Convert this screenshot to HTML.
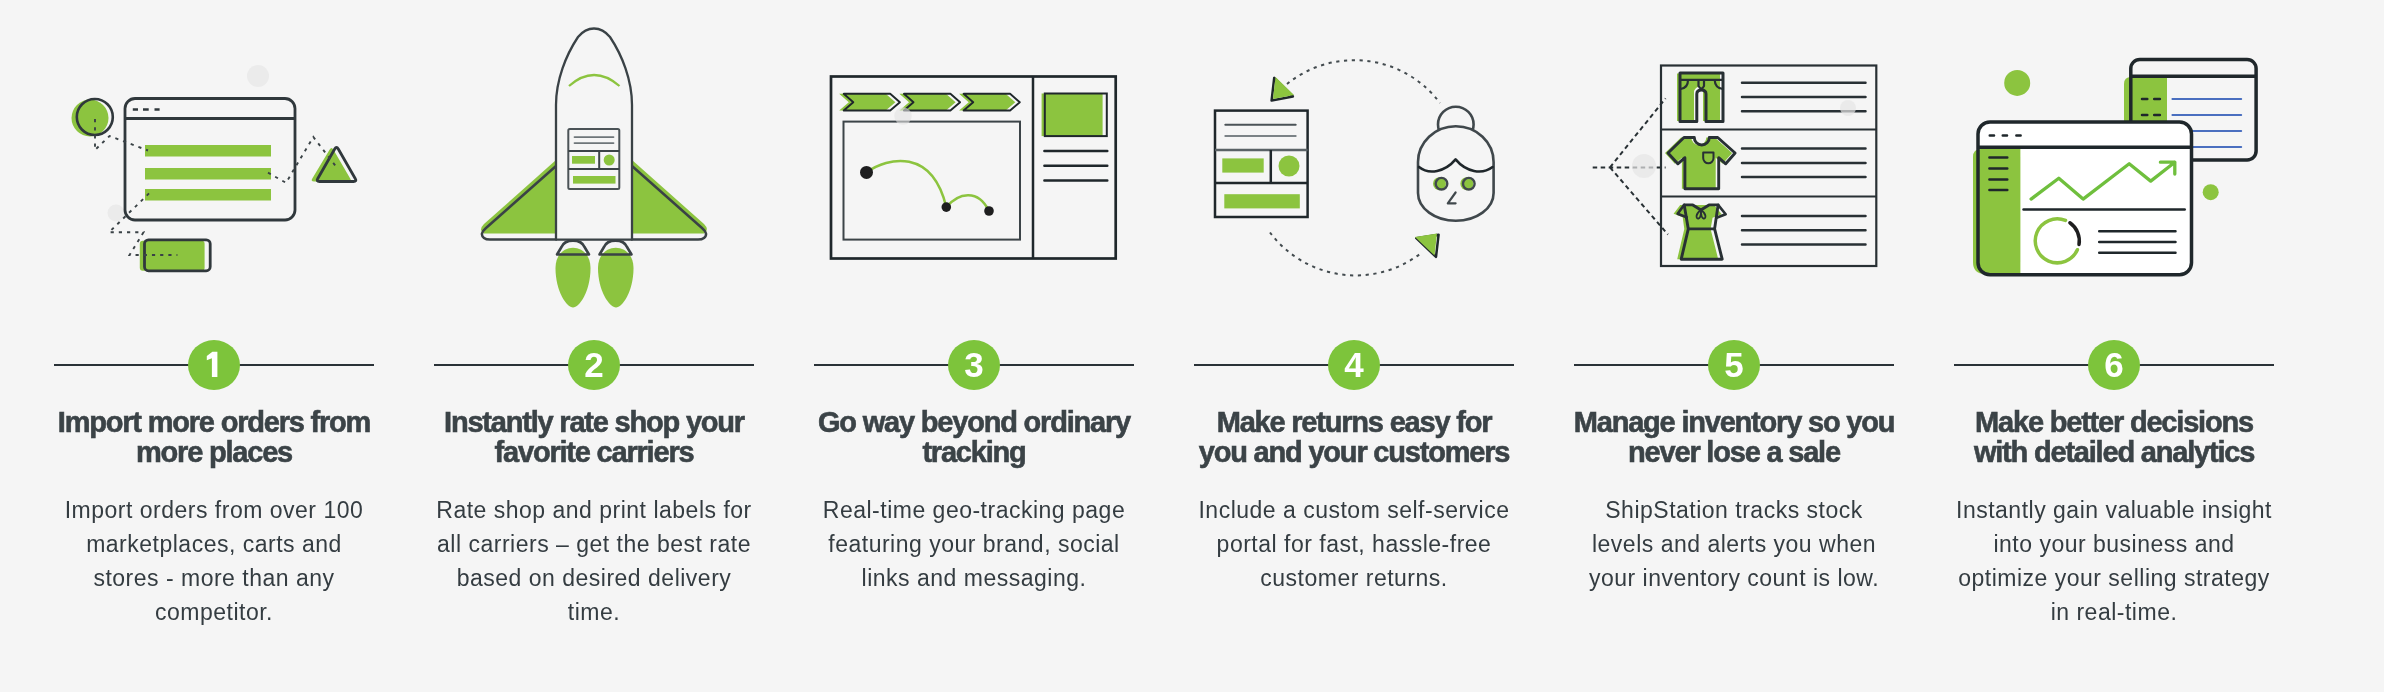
<!DOCTYPE html>
<html><head><meta charset="utf-8">
<style>
html,body{margin:0;padding:0;}
body{width:2384px;height:692px;background:#f5f5f5;position:relative;overflow:hidden;font-family:"Liberation Sans",sans-serif;}
.col{position:absolute;top:0;width:380px;height:692px;}
.line{position:absolute;left:30px;width:320px;top:364px;height:2px;background:#2a3237;}
.num{position:absolute;left:164px;top:340px;width:52px;height:50px;border-radius:50%;background:#7dc43b;color:#fff;font-weight:bold;font-size:35px;line-height:50px;text-align:center;will-change:transform;}
h2{position:absolute;left:0;width:380px;top:407px;margin:0;text-align:center;font-size:29px;line-height:30px;font-weight:bold;color:#3b4347;letter-spacing:-1.2px;-webkit-text-stroke:0.6px #3b4347;will-change:transform;}
p{position:absolute;left:20px;width:340px;top:493px;margin:0;text-align:center;font-size:23px;line-height:34px;letter-spacing:0.5px;color:#343c41;will-change:transform;}
svg.ill{position:absolute;left:0;top:0;}
</style></head><body>
<svg class="ill" width="2384" height="320" viewBox="0 0 2384 320">
<g id="i1">
<circle cx="258" cy="76" r="11" fill="#ebebeb"/>
<circle cx="116" cy="213" r="8.5" fill="#ebebeb"/>
<circle fill="#8cc43f" cx="90" cy="118" r="18.5"/>
<circle fill="none" stroke="#30383c" cx="94.8" cy="117" r="18" stroke-width="2.6"/>
<rect fill="none" stroke="#30383c" x="125" y="98.5" width="170" height="121.5" rx="10" stroke-width="2.8"/>
<line stroke="#30383c" x1="125" y1="118.5" x2="295" y2="118.5" stroke-width="2.8"/>
<path stroke="#30383c" d="M132.8 109.5h5.2M143 109.5h5.7M154.5 109.5h5.1" stroke-width="2.5"/>
<rect fill="#8cc43f" x="145" y="145" width="126" height="11.5"/>
<rect fill="#8cc43f" x="145" y="168" width="126" height="11.5"/>
<rect fill="#8cc43f" x="145" y="189" width="126" height="11.5"/>
<path fill="#8cc43f" d="M329.7 149.5L312.3 178.5 Q310.5 181.5 314.0 181.5L348.5 181.5 Q352.0 181.5 350.2 178.5L333.3 149.5 Q331.5 146.5 329.7 149.5Z"/>
<path fill="none" stroke="#30383c" stroke-width="2.8" d="M334.7 149.0L317.8 178.5 Q316.0 181.5 319.5 181.5L353.5 181.5 Q357.0 181.5 355.2 178.5L338.3 149.0 Q336.5 146.0 334.7 149.0Z"/>
<rect fill="#8cc43f" x="139.8" y="240.8" width="64.8" height="30" rx="3"/>
<rect fill="none" stroke="#30383c" x="144.5" y="239.8" width="65.7" height="31" rx="4" stroke-width="2.8"/>
<g fill="none" stroke="#3a4246" stroke-width="1.9" stroke-dasharray="3.2 5">
<path d="M95 119L95 150L109.5 136L148 150.5"/>
<path d="M268 172.7L286 182.8L313.3 137L336.6 167.3"/>
<path d="M149 193.4L109 232.3L143.5 232.3L129.5 255L177.4 255"/>
</g>
</g>
<g id="i2">
<path fill="#8cc43f" d="M556 160L484 224Q478 230 484 233.5L556 233.5Z"/>
<path fill="#8cc43f" d="M632 160L704 224Q710 230 704 233.5L632 233.5Z"/>
<g fill="none" stroke="#3a4246" stroke-width="2.5" stroke-linejoin="round" stroke-linecap="round">
<path d="M556 166L486 228Q479 234 484 238Q486 239.6 490 239.6L556 239.6"/>
<path d="M632 166L702 228Q709 234 704 238Q702 239.6 698 239.6L632 239.6"/>
</g>
<path fill="#8cc43f" d="M555.5 268C555.5 241 590.5 241 590.5 268C590.5 292 579 307.5 573 307.5C567 307.5 555.5 292 555.5 268Z"/>
<path fill="#8cc43f" d="M598 268C598 241 633.5 241 633.5 268C633.5 292 622 307.5 616 307.5C610 307.5 598 292 598 268Z"/>
<g fill="none" stroke="#3a4246" stroke-width="2.6" stroke-linejoin="round">
<path d="M557 254.5L561.5 247C565 238.5 581 238.5 584.5 247L589 254.5Z"/>
<path d="M599.5 254.5L604 247C607.5 238.5 623.5 238.5 627 247L631.5 254.5Z"/>
</g>
<path d="M556 239.6L556 105C556 80 566 55 578 37Q585 28.5 594 28.5Q603 28.5 610 37C622 55 632 80 632 105L632 239.6Z" fill="#f5f5f5" stroke="#3a4246" stroke-width="2.3" stroke-linejoin="round"/>
<path d="M569 86Q594 64 619.5 86" fill="none" stroke="#8cc43f" stroke-width="2.3"/>
<rect x="568.3" y="129" width="51" height="60" rx="1.5" fill="none" stroke="#4b5357" stroke-width="2"/>
<path d="M574.5 137.1H613.5M574.5 143.1H613.5" stroke="#6e7579" stroke-width="1.8" stroke-linecap="round"/>
<path d="M568.3 151H619.3M568.3 169H619.3M599.2 151V169" stroke="#3c4448" stroke-width="2"/>
<rect fill="#8cc43f" x="572" y="156" width="23" height="7.7"/>
<circle fill="#8cc43f" cx="609.2" cy="160" r="5.5"/>
<rect fill="#8cc43f" x="573" y="176" width="42.5" height="7.6"/>
</g>
<g id="i3">
<rect x="831" y="76.5" width="284.7" height="182" fill="none" stroke="#1f272b" stroke-width="2.7"/>
<line x1="1033" y1="76.5" x2="1033" y2="258.5" stroke="#1f272b" stroke-width="2.5"/>
<path fill="#8cc43f" d="M839.2 93.8H885.7L895.4 102.2L885.7 110.5H839.2L848.8 102.2Z"/>
<path fill="none" stroke="#1f272b" stroke-linejoin="round" d="M843.7 93.8H890.2L899.9 102.2L890.2 110.5H843.7L853.3 102.2Z" stroke-width="1.9"/>
<path fill="#8cc43f" d="M899.4000000000001 93.8H945.9000000000001L955.6 102.2L945.9000000000001 110.5H899.4000000000001L909.0 102.2Z"/>
<path fill="none" stroke="#1f272b" stroke-linejoin="round" d="M903.9000000000001 93.8H950.4000000000001L960.1 102.2L950.4000000000001 110.5H903.9000000000001L913.5 102.2Z" stroke-width="1.9"/>
<path fill="#8cc43f" d="M959.1 93.8H1005.6L1015.3 102.2L1005.6 110.5H959.1L968.6999999999999 102.2Z"/>
<path fill="none" stroke="#1f272b" stroke-linejoin="round" d="M963.6 93.8H1010.1L1019.8 102.2L1010.1 110.5H963.6L973.1999999999999 102.2Z" stroke-width="1.9"/>
<rect x="843.5" y="121.6" width="176.5" height="118" fill="none" stroke="#3c4448" stroke-width="2"/>
<path d="M866.5 172.4C888 157 932 148 946.3 207.1" fill="none" stroke="#8cc43f" stroke-width="2.5"/>
<path d="M946.3 207.1C958 193 978 188 989 211" fill="none" stroke="#8cc43f" stroke-width="2.5"/>
<circle cx="866.5" cy="172.4" r="6.5" fill="#1e1e1f"/>
<circle cx="946.3" cy="207.1" r="4.8" fill="#1e1e1f"/>
<circle cx="989" cy="211" r="4.8" fill="#1e1e1f"/>
<rect fill="#8cc43f" x="1041.6" y="93.5" width="61" height="42.6"/>
<rect x="1044.8" y="93.5" width="62" height="42.6" fill="none" stroke="#1f272b" stroke-width="2"/>
<path stroke="#1f272b" stroke-linecap="round" d="M1044.4 151.1H1107.3M1044.4 165.7H1107.3M1044.4 180.4H1107.3" stroke-width="2.5"/>
<circle cx="903" cy="116" r="8.7" fill="#e2e2e2" opacity="0.6"/>
</g>
<g id="i4">
<g fill="none" stroke="#434b4f" stroke-width="2" stroke-dasharray="3.2 4.6">
<path d="M1287 84A107 107 0 0 1 1440 103"/>
<path d="M1270 232.5A107 107 0 0 0 1422 252.4"/>
</g>
<path d="M1274.2 77.8L1271.6 100.6L1292.9 96.5Z" fill="none" stroke="#1f272b" stroke-width="2.5" stroke-linejoin="round"/>
<path fill="#8cc43f" d="M1275.5 77L1273 99L1294 95Z"/>
<path d="M1416.3 238.2L1438.6 234.7L1436 256.9Z" fill="none" stroke="#1f272b" stroke-width="2.5" stroke-linejoin="round"/>
<path fill="#8cc43f" d="M1415 237L1437 233.5L1434.5 255.5Z"/>
<rect x="1215" y="110.6" width="92.6" height="106.4" fill="none" stroke="#1f272b" stroke-width="2.5"/>
<path d="M1225.3 124.8H1295.7" stroke="#4b5357" stroke-width="2" stroke-linecap="round"/>
<path d="M1225.3 136.1H1295.7" stroke="#7b8286" stroke-width="2" stroke-linecap="round"/>
<path d="M1215 150.1H1307.6" stroke="#5a6266" stroke-width="2.5"/>
<path d="M1215 183.1H1307.6M1270.8 150.1V183.1" stroke="#1f272b" stroke-width="2.5"/>
<rect fill="#8cc43f" x="1222.3" y="158.4" width="41.4" height="14.2"/>
<circle fill="#8cc43f" cx="1289" cy="166" r="10.5"/>
<rect fill="#8cc43f" x="1224.3" y="194.2" width="75.5" height="14.2"/>
<circle cx="1455.8" cy="124.5" r="17.8" fill="none" stroke="#40484c" stroke-width="2.6"/>
<path d="M1418 162A37.8 35.8 0 0 1 1493.6 162V193A37.8 27.8 0 0 1 1418 193Z" fill="#f5f5f5" stroke="#40484c" stroke-width="2.6"/>
<path fill="none" stroke="#1f272b" stroke-linecap="round" stroke-linejoin="round" d="M1419 167C1429 175 1445 172 1455.6 159.4C1466 172 1482 175 1492.6 167" stroke-width="2.6"/>
<circle fill="#8cc43f" cx="1439.5" cy="183.7" r="6.5"/>
<circle fill="#8cc43f" cx="1466.8" cy="183.7" r="6.5"/>
<circle fill="none" stroke="#40484c" cx="1441.5" cy="183.7" r="5.8" stroke-width="2.4"/>
<circle fill="none" stroke="#40484c" cx="1468.8" cy="183.7" r="5.8" stroke-width="2.4"/>
<path fill="none" stroke="#40484c" stroke-linecap="round" stroke-linejoin="round" d="M1455.6 192.5L1447.8 203.3H1455.6" stroke-width="2.2"/>
</g>
<g id="i5">
<path d="M1592.7 167.4H1665.6M1610 167.4L1665.6 98.3M1610 167.4L1667.9 234.5" fill="none" stroke="#283034" stroke-width="2" stroke-dasharray="4.5 3.5"/>
<rect x="1661" y="65.5" width="215.3" height="200.5" fill="none" stroke="#283034" stroke-width="2.2"/>
<path d="M1661 129.5H1876.3M1661 196.5H1876.3" stroke="#283034" stroke-width="2.2"/>
<path stroke="#283034" stroke-linecap="round" d="M1742 82.7H1865.5M1742 97H1865.5M1742 111.3H1865.5M1742 148.5H1865.5M1742 163.1H1865.5M1742 177.1H1865.5M1742 215.9H1865.5M1742 230.3H1865.5M1742 244.6H1865.5" stroke-width="2.5"/>
<path fill="#8cc43f" d="M1677 73.5H1720V121H1703V91Q1701 87 1698.5 87Q1696 87 1694 91V121H1677Z"/>
<g fill="none" stroke="#283034" stroke-linejoin="round" stroke-linecap="round">
<path d="M1680 72.9H1723V121.4H1706V94Q1706 90 1701.4 90Q1696.8 90 1696.8 94V121.4H1680Z" stroke-width="3"/>
<path d="M1680 79.8H1723M1680.6 89Q1688 88 1688 80M1714.7 80Q1715 88 1722.8 89M1698.5 80V86Q1701.4 91 1704 86V80" stroke-width="2.2"/>
</g>
<path fill="#8cc43f" d="M1681 137.5H1691.3A7.5 7.5 0 0 0 1706.3 137.5H1714.7L1732.1 153L1722.7 163.8L1715.7 157.7V188.7H1681.9V157.7L1674.8 163.8L1665 153Z"/>
<g fill="none" stroke="#283034" stroke-linejoin="round" stroke-linecap="round">
<path d="M1684 137.5H1694.3A7.5 7.5 0 0 0 1709.3 137.5H1717.7L1735.1 153L1725.7 163.8L1718.7 157.7V188.7H1684.9V157.7L1677.8 163.8L1668 153Z" stroke-width="2.9"/>
<path d="M1703.2 152.5H1713.5V158A5.15 5.3 0 0 1 1703.2 158Z" stroke-width="2"/>
</g>
<path fill="#8cc43f" d="M1680.2 204.9H1714.1L1721.7 214.2L1712.6 217.7L1710.6 228.9L1718.2 259.2H1677.2L1684.3 228.9L1682.7 217.2L1673.6 213.7Z"/>
<g fill="none" stroke="#283034" stroke-linejoin="round" stroke-linecap="round">
<path d="M1684.2 204.9H1692.8L1700.9 210L1709 204.9H1718.1L1714.6 228.9L1722.2 259.2H1681.2L1688.3 228.9Z" stroke-width="2.9"/>
<path d="M1684.2 204.9L1677.6 213.7L1686.7 217.2M1718.1 204.9L1725.7 214.2L1716.6 217.7M1688.3 228.9H1714.6" stroke-width="2.6"/>
<path d="M1700.9 210C1695 214 1696 219 1698.5 218.5C1701 218 1701 213 1700.9 210C1701 213 1701 218 1703.5 218.5C1706 219 1707 214 1700.9 210" stroke-width="1.8"/>
</g>
<circle cx="1644" cy="166" r="12" fill="#e6e6e6" opacity="0.7"/>
<circle cx="1848" cy="108" r="8" fill="#e6e6e6" opacity="0.7"/>
</g>
<g id="i6">
<circle fill="#8cc43f" cx="2017.2" cy="82.9" r="13"/>
<circle fill="#8cc43f" cx="2210.7" cy="192.2" r="8"/>
<rect x="2130.8" y="59.5" width="125.3" height="100.5" rx="9" fill="#f5f5f5"/>
<path fill="#8cc43f" d="M2124 170V84Q2124 77 2131 77H2167V170Z"/>
<rect x="2130.8" y="59.5" width="125.3" height="100.5" rx="9" fill="none" stroke="#1f272b" stroke-width="3.5"/>
<path d="M2130.8 76.3H2256.1" stroke="#1f272b" stroke-width="3.5"/>
<path d="M2142 99H2147.3M2154.2 99H2159.9M2142 115H2147.3M2154.2 115H2159.9" stroke="#1f272b" stroke-width="2.5" stroke-linecap="round"/>
<path d="M2172.4 99H2241.2M2172.4 115H2241.2M2172.4 131.1H2241.2M2172.4 147.1H2241.2" stroke="#4a6fc0" stroke-width="2" stroke-linecap="round"/>
<rect x="1978" y="122" width="213.5" height="152.8" rx="12" fill="#ffffff"/>
<path fill="#8cc43f" d="M1973 262V157Q1973 149 1981 149H2020.4V274H1985Q1973 274 1973 262Z"/>
<rect x="1978" y="122" width="213.5" height="152.8" rx="12" fill="none" stroke="#1f272b" stroke-width="3.5"/>
<path d="M1978 147.2H2191.5" stroke="#1f272b" stroke-width="3.5"/>
<path d="M1989.8 135.5H1994M2002.8 135.5H2007M2016.4 135.5H2020.6" stroke="#1f272b" stroke-width="2.6" stroke-linecap="round"/>
<path d="M1989.4 157.6H2007.3M1989.4 168.5H2007.3M1989.4 179.5H2007.3M1989.4 190.1H2007.3" stroke="#1f272b" stroke-width="2.5" stroke-linecap="round"/>
<path d="M2031.1 199.1L2058.8 178.3L2083.1 199.1L2129.2 163.7L2150.7 181.1L2174.8 162.2M2160.4 162.2H2174.8V174.1" fill="none" stroke="#6fbf3d" stroke-width="3.3" stroke-linecap="round" stroke-linejoin="round"/>
<path d="M2023.5 209.6H2184.7" stroke="#1f272b" stroke-width="2.5" stroke-linecap="round"/>
<path d="M2099.2 231.2H2175.5M2099.2 242H2175.5M2099.2 252.8H2175.5" stroke="#1f272b" stroke-width="2.5" stroke-linecap="round"/>
<path d="M2077.4 249.7A22 22 0 1 1 2065.5 220.4" fill="none" stroke="#8cc43f" stroke-width="3.5" stroke-linecap="round"/>
<path d="M2069.9 222.8A22 22 0 0 1 2079.0 244.5" fill="none" stroke="#1e1e1f" stroke-width="3.5" stroke-linecap="round"/>
</g>
</svg>

<div class="col" style="left:24px">
<div class="line"></div><div class="num"><svg width="52" height="50" style="position:absolute;left:0;top:0"><path d="M29.4 11.7V37H23.9V18.3L18.8 20.2V15.9L24.4 11.7Z" fill="#fff"/></svg></div>
<h2>Import more orders from<br>more places</h2>
<p>Import orders from over 100<br>marketplaces, carts and<br>stores - more than any<br>competitor.</p>
</div>

<div class="col" style="left:404px">
<div class="line"></div><div class="num">2</div>
<h2>Instantly rate shop your<br>favorite carriers</h2>
<p>Rate shop and print labels for<br>all carriers – get the best rate<br>based on desired delivery<br>time.</p>
</div>

<div class="col" style="left:784px">
<div class="line"></div><div class="num">3</div>
<h2>Go way beyond ordinary<br>tracking</h2>
<p>Real-time geo-tracking page<br>featuring your brand, social<br>links and messaging.</p>
</div>

<div class="col" style="left:1164px">
<div class="line"></div><div class="num">4</div>
<h2>Make returns easy for<br>you and your customers</h2>
<p>Include a custom self-service<br>portal for fast, hassle-free<br>customer returns.</p>
</div>

<div class="col" style="left:1544px">
<div class="line"></div><div class="num">5</div>
<h2>Manage inventory so you<br>never lose a sale</h2>
<p>ShipStation tracks stock<br>levels and alerts you when<br>your inventory count is low.</p>
</div>

<div class="col" style="left:1924px">
<div class="line"></div><div class="num">6</div>
<h2>Make better decisions<br>with detailed analytics</h2>
<p>Instantly gain valuable insight<br>into your business and<br>optimize your selling strategy<br>in real-time.</p>
</div>

</body></html>
